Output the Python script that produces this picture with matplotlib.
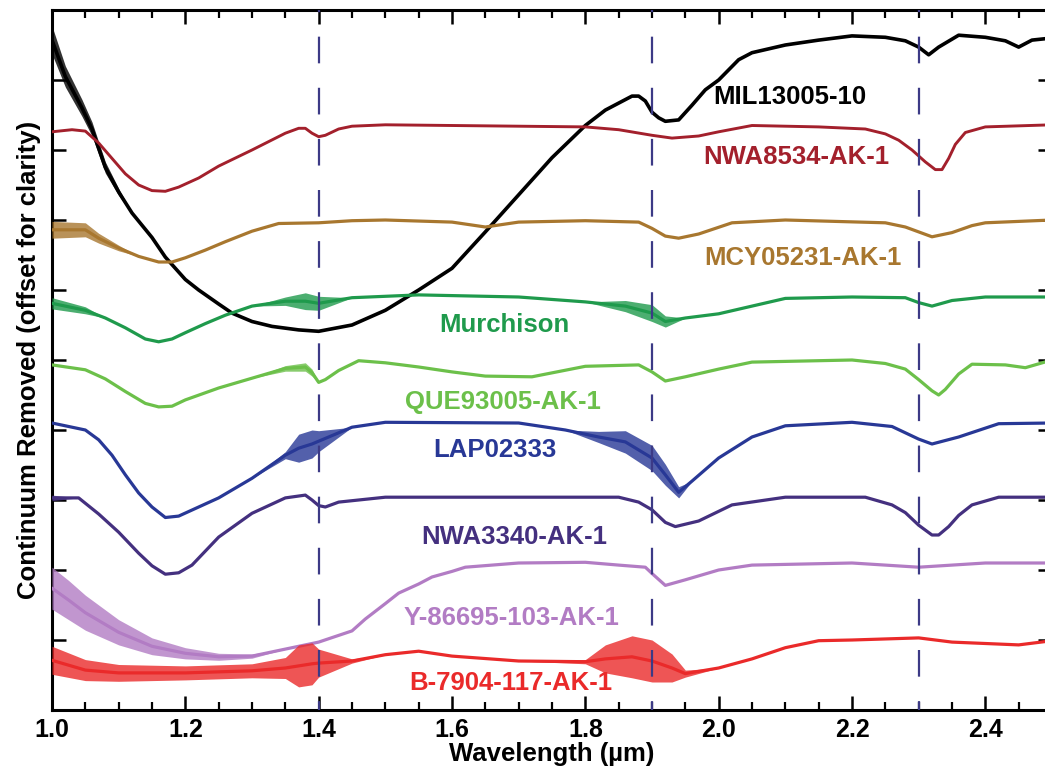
import numpy as np
import matplotlib
matplotlib.use("Agg")
import matplotlib.pyplot as plt
from matplotlib.ticker import MultipleLocator

plt.rcParams["font.family"] = ["Liberation Sans", "DejaVu Sans"]
plt.rcParams["font.weight"] = "bold"

# ---------------------------------------------------------------- spectra
# continuum-removed reflectance, offset for clarity (arbitrary units)
wl_mil = [1.00, 1.02, 1.045, 1.06, 1.08, 1.10, 1.12, 1.15, 1.17, 1.20, 1.22, 1.25,
          1.27, 1.30, 1.33, 1.37, 1.40, 1.45, 1.50, 1.55, 1.60, 1.65, 1.70, 1.75,
          1.80, 1.83, 1.85, 1.87, 1.88, 1.89, 1.90, 1.91, 1.92, 1.94, 1.96, 1.98,
          2.00, 2.03, 2.05, 2.10, 2.15, 2.20, 2.25, 2.28, 2.30, 2.315, 2.33, 2.36,
          2.40, 2.43, 2.45, 2.47, 2.50]
cr_mil = [9.57, 9.05, 8.60, 8.30, 7.75, 7.40, 7.10, 6.75, 6.47, 6.15, 6.00, 5.80,
          5.67, 5.55, 5.48, 5.43, 5.41, 5.50, 5.71, 6.00, 6.31, 6.83, 7.36, 7.89,
          8.35, 8.57, 8.67, 8.77, 8.77, 8.70, 8.54, 8.46, 8.41, 8.43, 8.64, 8.86,
          9.00, 9.29, 9.39, 9.50, 9.57, 9.63, 9.61, 9.56, 9.47, 9.36, 9.47, 9.64,
          9.61, 9.56, 9.47, 9.57, 9.60]

wl_nwa8534 = [1.00, 1.03, 1.05, 1.07, 1.09, 1.11, 1.13, 1.15, 1.17, 1.19, 1.22,
              1.25, 1.30, 1.35, 1.37, 1.38, 1.39, 1.40, 1.41, 1.43, 1.45, 1.50,
              1.70, 1.80, 1.85, 1.90, 1.93, 1.97, 2.00, 2.05, 2.15, 2.22, 2.25,
              2.27, 2.29, 2.31, 2.325, 2.335, 2.345, 2.355, 2.37, 2.40, 2.50]
cr_nwa8534 = [8.26, 8.29, 8.27, 8.10, 7.88, 7.66, 7.50, 7.42, 7.41, 7.47, 7.60,
              7.77, 8.00, 8.24, 8.31, 8.31, 8.24, 8.19, 8.21, 8.30, 8.34, 8.36,
              8.34, 8.33, 8.29, 8.21, 8.17, 8.20, 8.26, 8.35, 8.33, 8.30, 8.23,
              8.14, 8.00, 7.83, 7.72, 7.72, 7.88, 8.08, 8.25, 8.33, 8.36]

wl_mcy = [1.00, 1.05, 1.07, 1.10, 1.13, 1.16, 1.18, 1.20, 1.23, 1.26, 1.30,
          1.34, 1.40, 1.45, 1.50, 1.60, 1.65, 1.70, 1.80, 1.88, 1.90, 1.92, 1.94,
          1.97, 2.02, 2.10, 2.25, 2.28, 2.30, 2.32, 2.35, 2.38, 2.40, 2.50]
cr_mcy = [6.86, 6.86, 6.74, 6.60, 6.48, 6.40, 6.40, 6.46, 6.57, 6.69, 6.84,
          6.95, 6.96, 6.99, 7.00, 6.97, 6.90, 6.97, 6.99, 6.97, 6.88, 6.77, 6.74,
          6.80, 6.96, 7.00, 6.96, 6.90, 6.83, 6.76, 6.82, 6.92, 6.96, 7.00]

wl_murch = [1.00, 1.05, 1.08, 1.11, 1.14, 1.16, 1.18, 1.20, 1.23, 1.26, 1.30,
            1.35, 1.38, 1.40, 1.45, 1.55, 1.70, 1.80, 1.86, 1.90, 1.92, 1.95,
            2.00, 2.05, 2.10, 2.20, 2.28, 2.30, 2.32, 2.35, 2.40, 2.50]
cr_murch = [5.81, 5.71, 5.60, 5.46, 5.30, 5.26, 5.30, 5.39, 5.52, 5.64, 5.77,
            5.84, 5.84, 5.81, 5.89, 5.93, 5.90, 5.83, 5.77, 5.67, 5.55, 5.60,
            5.66, 5.77, 5.88, 5.90, 5.89, 5.82, 5.77, 5.85, 5.90, 5.90]

wl_que = [1.00, 1.05, 1.08, 1.11, 1.14, 1.16, 1.18, 1.20, 1.25, 1.30, 1.35,
          1.38, 1.39, 1.40, 1.41, 1.43, 1.46, 1.50, 1.55, 1.60, 1.65, 1.72, 1.80,
          1.88, 1.90, 1.92, 1.95, 2.00, 2.05, 2.20, 2.25, 2.28, 2.30, 2.32, 2.33,
          2.34, 2.36, 2.38, 2.43, 2.46, 2.50]
cr_que = [4.93, 4.86, 4.73, 4.55, 4.38, 4.33, 4.34, 4.43, 4.60, 4.74, 4.88,
          4.90, 4.82, 4.68, 4.72, 4.85, 4.99, 4.96, 4.90, 4.83, 4.77, 4.76, 4.91,
          4.93, 4.83, 4.70, 4.76, 4.87, 4.97, 5.00, 4.95, 4.87, 4.72, 4.56, 4.50,
          4.58, 4.80, 4.94, 4.93, 4.89, 5.00]

wl_lap = [1.00, 1.05, 1.07, 1.09, 1.11, 1.13, 1.15, 1.17, 1.19, 1.22, 1.25,
          1.30, 1.35, 1.37, 1.39, 1.40, 1.45, 1.50, 1.70, 1.77, 1.82, 1.86, 1.90,
          1.92, 1.94, 1.96, 2.00, 2.05, 2.10, 2.20, 2.26, 2.30, 2.32, 2.36, 2.42,
          2.50]
cr_lap = [4.10, 4.00, 3.86, 3.64, 3.36, 3.10, 2.90, 2.75, 2.77, 2.90, 3.03,
          3.31, 3.64, 3.74, 3.80, 3.84, 4.04, 4.11, 4.10, 4.00, 3.90, 3.83, 3.60,
          3.36, 3.11, 3.27, 3.60, 3.90, 4.06, 4.11, 4.05, 3.87, 3.80, 3.90, 4.09,
          4.10]

wl_nwa3340 = [1.00, 1.04, 1.07, 1.10, 1.13, 1.15, 1.17, 1.19, 1.21, 1.25, 1.30,
              1.35, 1.38, 1.39, 1.40, 1.41, 1.43, 1.50, 1.85, 1.88, 1.90, 1.92,
              1.935, 1.97, 2.02, 2.10, 2.22, 2.26, 2.28, 2.30, 2.32, 2.33, 2.345,
              2.36, 2.38, 2.42, 2.50]
cr_nwa3340 = [3.03, 3.03, 2.80, 2.54, 2.24, 2.06, 1.94, 1.96, 2.07, 2.47, 2.81,
              3.03, 3.07, 3.00, 2.92, 2.90, 2.97, 3.04, 3.04, 2.97, 2.86, 2.68,
              2.62, 2.70, 2.93, 3.04, 3.04, 2.93, 2.82, 2.64, 2.50, 2.50, 2.62,
              2.78, 2.93, 3.04, 3.04]

wl_y86695 = [1.00, 1.025, 1.05, 1.10, 1.15, 1.20, 1.25, 1.30, 1.35, 1.40, 1.45,
             1.47, 1.50, 1.52, 1.55, 1.57, 1.60, 1.62, 1.70, 1.80, 1.85, 1.89,
             1.90, 1.92, 1.95, 2.00, 2.05, 2.20, 2.30, 2.40, 2.50]
cr_y86695 = [1.74, 1.57, 1.39, 1.11, 0.91, 0.81, 0.76, 0.77, 0.87, 0.97, 1.13,
             1.30, 1.52, 1.67, 1.80, 1.90, 1.98, 2.04, 2.10, 2.11, 2.07, 2.04,
             1.95, 1.78, 1.86, 2.00, 2.07, 2.10, 2.04, 2.10, 2.10]

wl_b7904 = [1.00, 1.05, 1.10, 1.20, 1.30, 1.35, 1.37, 1.39, 1.40, 1.45, 1.50,
            1.55, 1.60, 1.70, 1.80, 1.83, 1.87, 1.90, 1.93, 1.95, 2.00, 2.05,
            2.10, 2.15, 2.20, 2.30, 2.35, 2.45, 2.50]
cr_b7904 = [0.71, 0.57, 0.53, 0.53, 0.56, 0.60, 0.63, 0.66, 0.67, 0.70, 0.79,
            0.84, 0.77, 0.70, 0.69, 0.73, 0.76, 0.70, 0.60, 0.52, 0.60, 0.73,
            0.89, 0.99, 1.00, 1.03, 0.97, 0.93, 0.99]

# half-width of the detector-noise scatter at the noisiest wavelengths
noise_mil = {1.00: 0.20, 1.02: 0.15, 1.045: 0.12, 1.06: 0.10, 1.08: 0.08, 1.10: 0.05}
noise_nwa8534 = {}
noise_mcy = {1.00: 0.12, 1.05: 0.10, 1.07: 0.07, 1.10: 0.04}
noise_murch = {1.00: 0.08, 1.05: 0.05, 1.35: 0.06, 1.38: 0.12, 1.40: 0.10,
               1.86: 0.08, 1.90: 0.12, 1.92: 0.08}
noise_que = {1.35: 0.04, 1.38: 0.06, 1.39: 0.05}
noise_lap = {1.35: 0.05, 1.37: 0.20, 1.39: 0.20, 1.40: 0.15, 1.82: 0.08,
             1.86: 0.16, 1.90: 0.18, 1.92: 0.15, 1.94: 0.08}
noise_nwa3340 = {1.00: 0.04}
noise_y86695 = {1.00: 0.30, 1.025: 0.28, 1.05: 0.25, 1.10: 0.18, 1.15: 0.12,
                1.20: 0.08, 1.25: 0.05, 1.30: 0.03}
noise_b7904 = {1.00: 0.20, 1.05: 0.15, 1.10: 0.12, 1.20: 0.10, 1.30: 0.10,
               1.35: 0.15, 1.37: 0.30, 1.39: 0.30, 1.40: 0.20, 1.45: 0.03,
               1.80: 0.03, 1.83: 0.20, 1.87: 0.30, 1.90: 0.30, 1.93: 0.20,
               1.95: 0.05}

names = ["MIL13005-10", "NWA8534-AK-1", "MCY05231-AK-1", "Murchison",
         "QUE93005-AK-1", "LAP02333", "NWA3340-AK-1", "Y-86695-103-AK-1",
         "B-7904-117-AK-1"]
colors = ["#000000", "#a3202c", "#a8772f", "#1f9a4c", "#6cc04a", "#283896",
          "#44307f", "#b27cc4", "#ea2a2a"]
label_x = [2.107, 2.117, 2.126, 1.678, 1.677, 1.665, 1.693, 1.689, 1.688]
label_y = [8.76, 7.90, 6.46, 5.50, 4.40, 3.71, 2.47, 1.31, 0.39]
label_size = [18.5, 18.5, 18.5, 18.5, 18.5, 18.5, 18.5, 18.5, 18.5]
band_centres = [1.4, 1.9, 2.3]
xtick_values = [1.0, 1.2, 1.4, 1.6, 1.8, 2.0, 2.2, 2.4]

series = [
    (wl_mil, cr_mil, noise_mil, 2.6),
    (wl_nwa8534, cr_nwa8534, noise_nwa8534, 2.1),
    (wl_mcy, cr_mcy, noise_mcy, 2.3),
    (wl_murch, cr_murch, noise_murch, 2.3),
    (wl_que, cr_que, noise_que, 2.3),
    (wl_lap, cr_lap, noise_lap, 2.3),
    (wl_nwa3340, cr_nwa3340, noise_nwa3340, 2.3),
    (wl_y86695, cr_y86695, noise_y86695, 2.3),
    (wl_b7904, cr_b7904, noise_b7904, 2.3),
]

fig = plt.figure(figsize=(10.45, 7.76), dpi=100)
ax = fig.add_axes([52 / 1045, 66 / 776, 1000 / 1045, 700 / 776])

for (wl, cr, noise, lw), col in zip(series, colors):
    wl = np.asarray(wl)
    cr = np.asarray(cr)
    ax.plot(wl, cr, color=col, lw=lw, zorder=3, solid_joinstyle="round",
            solid_capstyle="round")
    if noise:
        amp = np.array([noise.get(x, 0.0) for x in wl])
        ax.fill_between(wl, cr - amp, cr + amp, color=col, lw=0,
                        alpha=0.8, zorder=3)

for xc in band_centres:
    ax.plot([xc, xc], [0, 10], color="#3c3a86", lw=1.6,
            linestyle=(8, (12, 11)), zorder=4)

for name, col, tx, ty, fs in zip(names, colors, label_x, label_y, label_size):
    ax.text(tx, ty, name, color=col, fontsize=fs, fontweight="bold",
            ha="center", va="center", zorder=5)

ax.set_xlim(1.0, 2.5)
ax.set_ylim(0, 10)
ax.set_xticks(xtick_values)
ax.set_xticklabels([f"{v:.1f}" for v in xtick_values])
ax.xaxis.set_minor_locator(MultipleLocator(0.05))
ax.yaxis.set_major_locator(MultipleLocator(1))
ax.set_yticklabels([])
ax.tick_params(axis="both", which="major", direction="in", length=10,
               width=1.8, top=True, right=True, labelsize=18, pad=6)
ax.tick_params(axis="x", which="minor", direction="in", length=6,
               width=1.6, top=True)
for sp in ax.spines.values():
    sp.set_linewidth(2.2)

ax.set_xlabel("Wavelength (\u00b5m)", fontsize=18.5, fontweight="bold",
              labelpad=0)
ax.set_ylabel("Continuum Removed (offset for clarity)", fontsize=18.5,
              fontweight="bold", labelpad=2)

fig.savefig("out.png", dpi=100)
